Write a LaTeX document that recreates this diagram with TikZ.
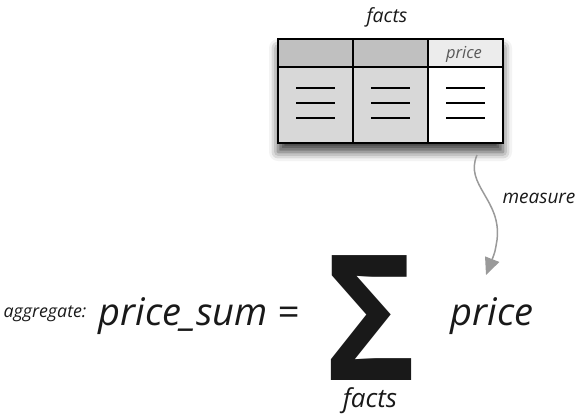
\documentclass[tikz,border=0pt]{standalone}
\usepackage{fontspec}
\setmainfont{Open Sans}
\usetikzlibrary{arrows.meta,shadows.blur}

\definecolor{hdgray}{HTML}{C0C0C0}
\definecolor{hdlight}{HTML}{ECECEC}
\definecolor{bodygray}{HTML}{D8D8D8}
\definecolor{arrowgray}{HTML}{9A9A9A}
\newcommand{\fsz}[1]{\fontsize{#1}{#1}\selectfont}

\tikzset{
  lbl/.style={font=\itshape, text=black!90, inner sep=0pt, anchor=base},
  cell/.style={draw=black, line width=1.5pt},
  rowline/.style={line width=1.3pt},
  measurearrow/.style={draw=arrowgray, line width=1.5pt, -{Triangle[length=17pt,width=15pt]}},
}

\begin{document}
\begin{tikzpicture}[x=1pt,y=-1pt]
\useasboundingbox (0,0) rectangle (577,418);

% table of facts
\fill[white, blur shadow={shadow xshift=0pt, shadow yshift=-9pt, shadow blur radius=9pt, shadow opacity=75}] (278,39) rectangle (503,143);
\foreach \i/\hd/\bd in {0/hdgray/bodygray,1/hdgray/bodygray,2/hdlight/white}{
  \filldraw[cell, fill=\hd] (278+75*\i,39) rectangle ++(75,28);
  \filldraw[cell, fill=\bd] (278+75*\i,67) rectangle ++(75,76);
  \foreach \y in {88,103,118}
    \draw[rowline] (296+75*\i,\y) -- ++(39,0);
}
\node[lbl, font=\itshape\fsz{19.5}] (facttitle) at (387,22) {facts};
\node[lbl, font=\itshape\fsz{16.5}, text=black!65] (pricehd) at (464,58) {price};

% measure
\coordinate (mstart) at (477,155);
\coordinate (mend) at (486,275);
\draw[measurearrow] (mstart) .. controls (464,185) and (502,200) .. (497,240) .. controls (495,252) .. (mend);
\node[lbl, font=\itshape\fsz{19}] (measure) at (539,203) {measure};

% aggregate formula
\node[lbl, font=\itshape\fsz{17.8}] (aggregate) at (45,317) {aggregate:};
\node[lbl, font=\itshape\fsz{38}] (pricesum) at (199,325) {price\_sum =};
\node[lbl, font=\bfseries\fsz{175}, xscale=0.88] (sigma) at (371,380) {Σ};
\node[lbl, font=\itshape\fsz{26}] (sumfacts) at (370,407) {facts};
\node[lbl, font=\itshape\fsz{38}] (price) at (492,325) {price};
\end{tikzpicture}
\end{document}
